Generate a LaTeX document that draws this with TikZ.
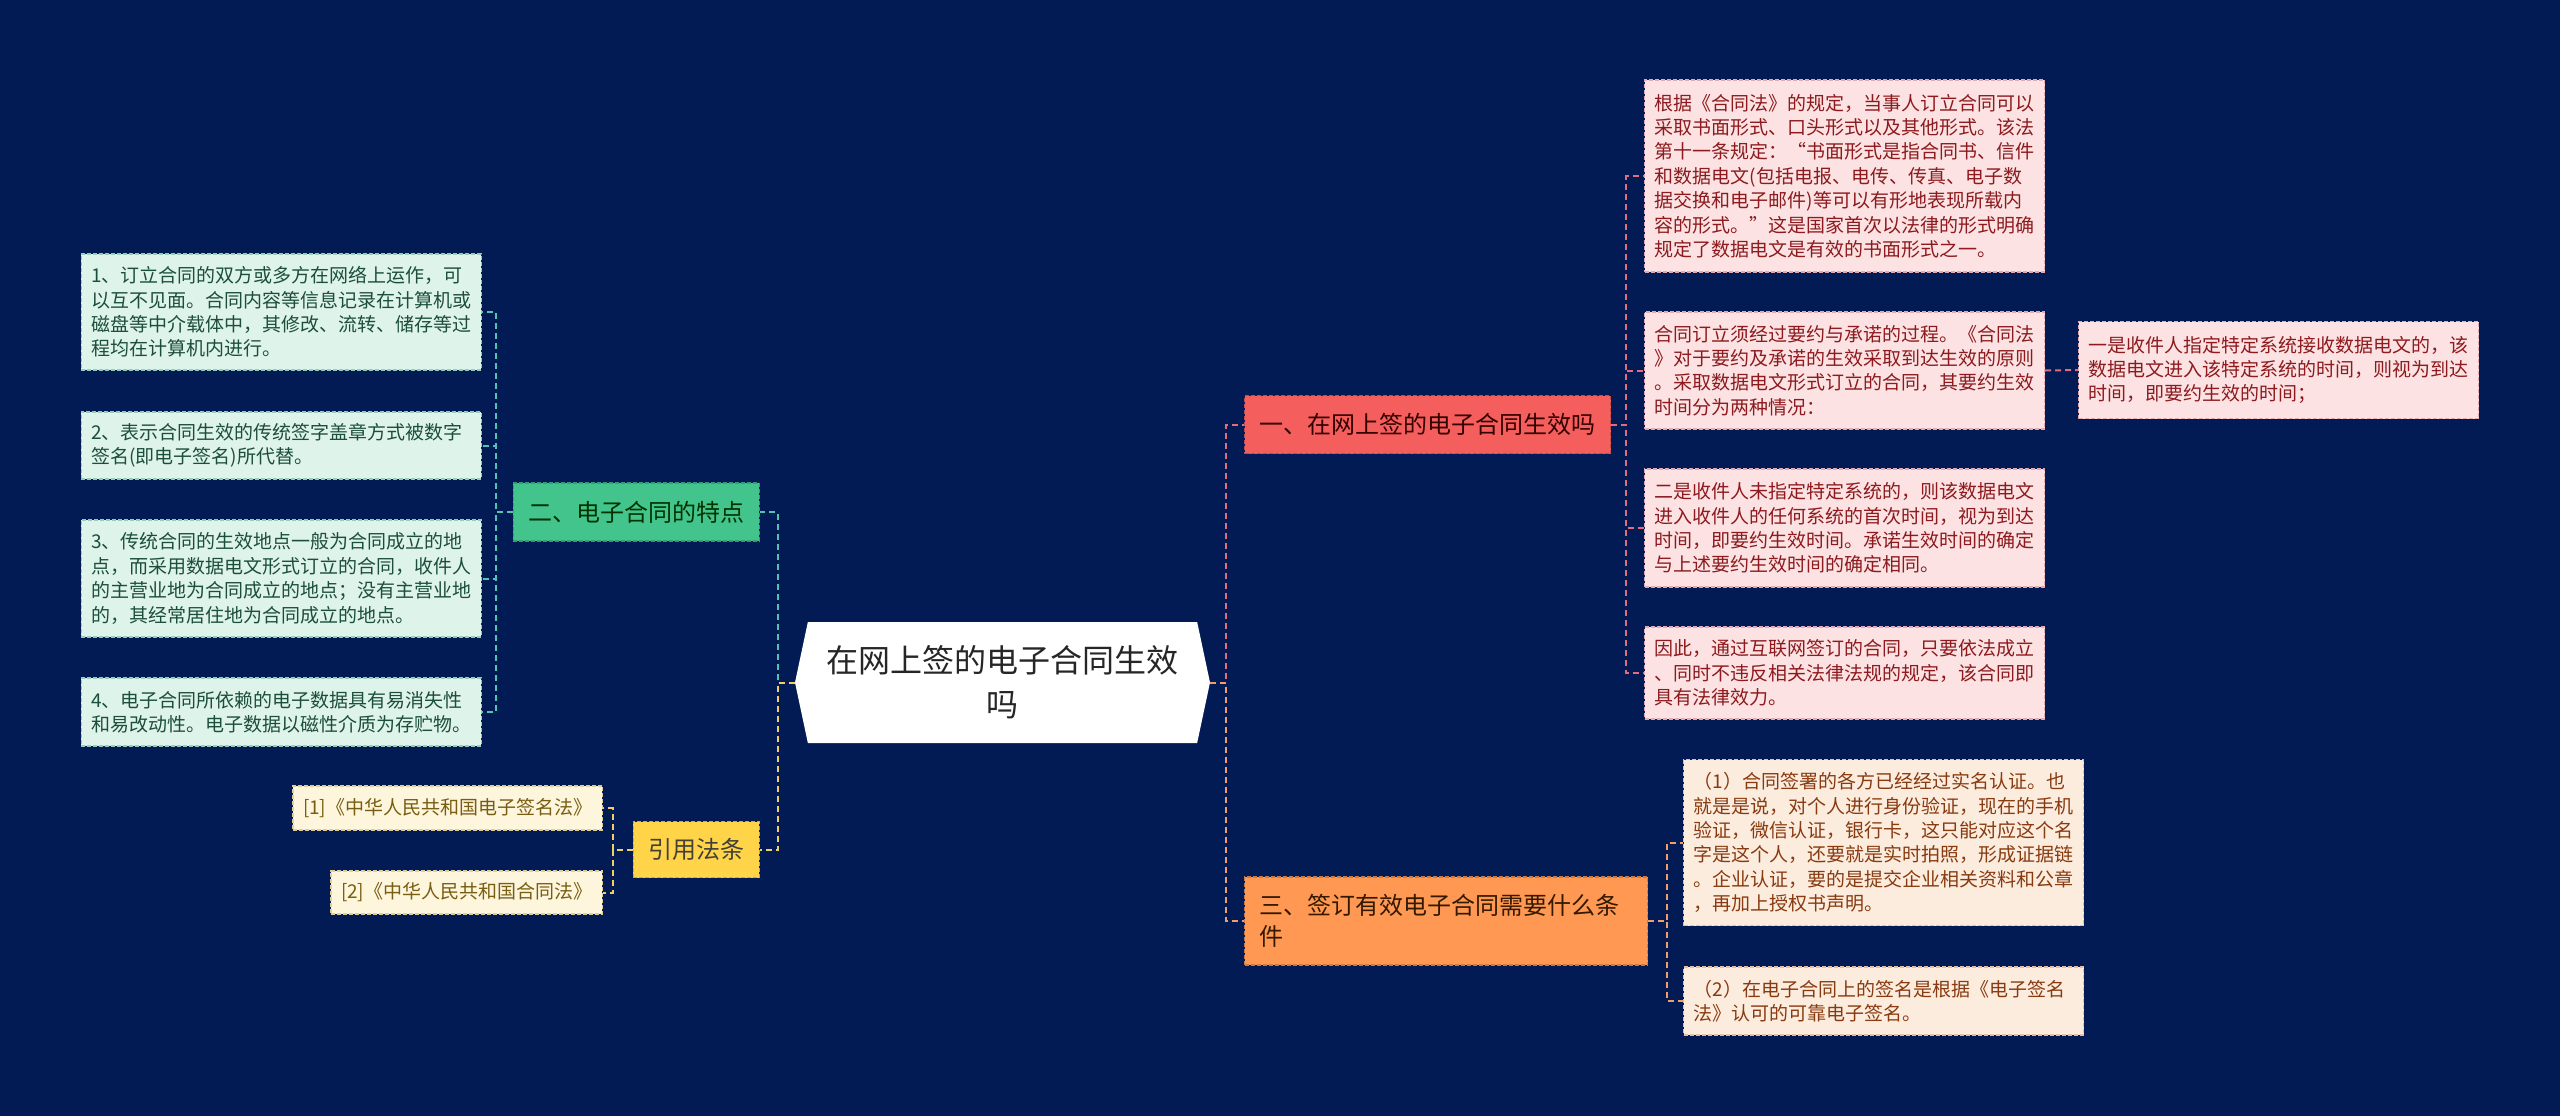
\documentclass[tikz,border=0pt]{standalone}
\usepackage{fontspec}
\setmainfont{Noto Sans CJK SC}
\usepackage{xcolor}
\usepackage{tikz}
\usetikzlibrary{shapes.symbols}

\definecolor{bgNavy}{RGB}{2,27,84}
\definecolor{leafPink}{RGB}{252,226,226}
\definecolor{leafPinkLine}{RGB}{226,170,178}
\definecolor{leafPinkText}{RGB}{140,26,30}
\definecolor{leafPeach}{RGB}{252,236,222}
\definecolor{leafPeachLine}{RGB}{230,190,160}
\definecolor{leafPeachText}{RGB}{136,58,16}
\definecolor{leafGreen}{RGB}{222,243,234}
\definecolor{leafGreenLine}{RGB}{150,205,184}
\definecolor{leafGreenText}{RGB}{28,78,60}
\definecolor{leafCream}{RGB}{253,245,220}
\definecolor{leafCreamLine}{RGB}{222,205,150}
\definecolor{leafCreamText}{RGB}{120,94,18}
\definecolor{topicRed}{RGB}{244,94,92}
\definecolor{topicOrange}{RGB}{255,152,82}
\definecolor{topicGreen}{RGB}{66,196,140}
\definecolor{topicYellow}{RGB}{255,212,72}
\definecolor{linkRed}{RGB}{226,108,124}
\definecolor{linkOrange}{RGB}{242,156,104}
\definecolor{linkTeal}{RGB}{84,196,178}
\definecolor{linkYellow}{RGB}{240,208,98}

\tikzstyle{tsBorder} = [
    line width=1.2pt,
    dash pattern=on 4pt off 2pt
]
\tikzstyle{tsLeaf} = [
    rectangle,
    tsBorder,
    font=\fontsize{19}{24.4}\selectfont,
    text width=380pt,
    align=left,
    inner xsep=10pt
]
\tikzstyle{tsLeafPink} = [tsLeaf, fill=leafPink, draw=leafPinkLine, text=leafPinkText]
\tikzstyle{tsLeafPeach} = [tsLeaf, fill=leafPeach, draw=leafPeachLine, text=leafPeachText]
\tikzstyle{tsLeafGreen} = [tsLeaf, fill=leafGreen, draw=leafGreenLine, text=leafGreenText]
\tikzstyle{tsRef} = [
    rectangle,
    tsBorder,
    font=\fontsize{19}{24.4}\selectfont,
    inner xsep=10pt,
    fill=leafCream,
    draw=leafCreamLine,
    text=leafCreamText
]
\tikzstyle{tsTopic} = [
    rectangle,
    tsBorder,
    font=\fontsize{24}{31}\selectfont,
    align=left,
    inner xsep=15pt
]
\tikzstyle{tsLink} = [
    line width=2pt,
    dash pattern=on 6pt off 4pt
]

\begin{document}
\begin{tikzpicture}[x=1pt, y=-1pt]

        \fill[bgNavy] (0,0) rectangle (2560,1116);

        % centre
        \node[  signal,
                signal to=west and east,
                signal pointer angle=156,
                fill=white,
                text=black!85,
                font=\fontsize{32}{44}\selectfont,
                align=center,
                minimum width=415pt,
                minimum height=121pt] (root) at (1002.5,682.5)
                {在网上签的电子合同生效\\吗};

        % right branches
        \node[tsTopic, fill=topicRed, draw=topicRed!80!black, text=black!80!red,
              minimum height=58pt, anchor=west] (t1) at (1244,424.5)
              {一、在网上签的电子合同生效吗};
        \node[tsTopic, fill=topicOrange, draw=topicOrange!80!black, text=black!80!orange,
              text width=373pt, minimum height=88pt, anchor=west] (t3) at (1244,921)
              {三、签订有效电子合同需要什么条\\件};

        \node[tsLeafPink, minimum height=192pt, anchor=west] (r1) at (1644,176)
              {根据《合同法》的规定，当事人订立合同可以\\
               采取书面形式、口头形式以及其他形式。该法\\
               第十一条规定：“书面形式是指合同书、信件\\
               和数据电文(包括电报、电传、传真、电子数\\
               据交换和电子邮件)等可以有形地表现所载内\\
               容的形式。”这是国家首次以法律的形式明确\\
               规定了数据电文是有效的书面形式之一。};
        \node[tsLeafPink, minimum height=117pt, anchor=west] (r2) at (1644,370.5)
              {合同订立须经过要约与承诺的过程。《合同法\\
               》对于要约及承诺的生效采取到达生效的原则\\
               。采取数据电文形式订立的合同，其要约生效\\
               时间分为两种情况：};
        \node[tsLeafPink, minimum height=97pt, anchor=west] (r2a) at (2078,370)
              {一是收件人指定特定系统接收数据电文的，该\\
               数据电文进入该特定系统的时间，则视为到达\\
               时间，即要约生效的时间；};
        \node[tsLeafPink, minimum height=118pt, anchor=west] (r3) at (1644,528)
              {二是收件人未指定特定系统的，则该数据电文\\
               进入收件人的任何系统的首次时间，视为到达\\
               时间，即要约生效时间。承诺生效时间的确定\\
               与上述要约生效时间的确定相同。};
        \node[tsLeafPink, minimum height=92pt, anchor=west] (r4) at (1644,673)
              {因此，通过互联网签订的合同，只要依法成立\\
               、同时不违反相关法律法规的规定，该合同即\\
               具有法律效力。};

        \node[tsLeafPeach, minimum height=166pt, anchor=west] (p1) at (1683,842.5)
              {（1）合同签署的各方已经经过实名认证。也\\
               就是是说，对个人进行身份验证，现在的手机\\
               验证，微信认证，银行卡，这只能对应这个名\\
               字是这个人，还要就是实时拍照，形成证据链\\
               。企业认证，要的是提交企业相关资料和公章\\
               ，再加上授权书声明。};
        \node[tsLeafPeach, minimum height=68pt, anchor=west] (p2) at (1683,1001)
              {（2）在电子合同上的签名是根据《电子签名\\
               法》认可的可靠电子签名。};

        % left branches
        \node[tsTopic, fill=topicGreen, draw=topicGreen!80!black, text=black!80!green,
              minimum height=58pt, anchor=east] (t2) at (760,512)
              {二、电子合同的特点};
        \node[tsTopic, fill=topicYellow, draw=topicYellow!80!black, text=black!85!yellow,
              minimum height=56pt, anchor=east] (t4) at (760,849.5)
              {引用法条};

        \node[tsLeafGreen, minimum height=116pt, anchor=east] (l1) at (482,312)
              {1、订立合同的双方或多方在网络上运作，可\\
               以互不见面。合同内容等信息记录在计算机或\\
               磁盘等中介载体中，其修改、流转、储存等过\\
               程均在计算机内进行。};
        \node[tsLeafGreen, minimum height=67pt, anchor=east] (l2) at (482,445.5)
              {2、表示合同生效的传统签字盖章方式被数字\\
               签名(即电子签名)所代替。};
        \node[tsLeafGreen, minimum height=117pt, anchor=east] (l3) at (482,578.5)
              {3、传统合同的生效地点一般为合同成立的地\\
               点，而采用数据电文形式订立的合同，收件人\\
               的主营业地为合同成立的地点；没有主营业地\\
               的，其经常居住地为合同成立的地点。};
        \node[tsLeafGreen, minimum height=68pt, anchor=east] (l4) at (482,712)
              {4、电子合同所依赖的电子数据具有易消失性\\
               和易改动性。电子数据以磁性介质为存贮物。};

        \node[tsRef, minimum height=44pt, anchor=east] (f1) at (603,808)
              {[1]《中华人民共和国电子签名法》};
        \node[tsRef, minimum height=43pt, anchor=east] (f2) at (603,892.5)
              {[2]《中华人民共和国合同法》};

        % connectors
        \draw[tsLink, linkRed] (root.east) -- ++(16,0) |- (t1.west);
        \draw[tsLink, linkOrange] (root.east) -- ++(16,0) |- (t3.west);
        \draw[tsLink, linkTeal] (root.west) -- ++(-17,0) |- (t2.east);
        \draw[tsLink, linkYellow] (root.west) -- ++(-17,0) |- (t4.east);

        \foreach \n in {r1,r2,r3,r4}
            \draw[tsLink, linkRed] (t1.east) -- ++(15,0) |- (\n.west);
        \draw[tsLink, linkRed] (r2.east) -- (r2a.west);
        \foreach \n in {p1,p2}
            \draw[tsLink, linkOrange] (t3.east) -- ++(19,0) |- (\n.west);
        \foreach \n in {l1,l2,l3,l4}
            \draw[tsLink, linkTeal] (t2.west) -- ++(-17,0) |- (\n.east);
        \foreach \n in {f1,f2}
            \draw[tsLink, linkYellow] (t4.west) -- ++(-20,0) |- (\n.east);

\end{tikzpicture}
\end{document}
